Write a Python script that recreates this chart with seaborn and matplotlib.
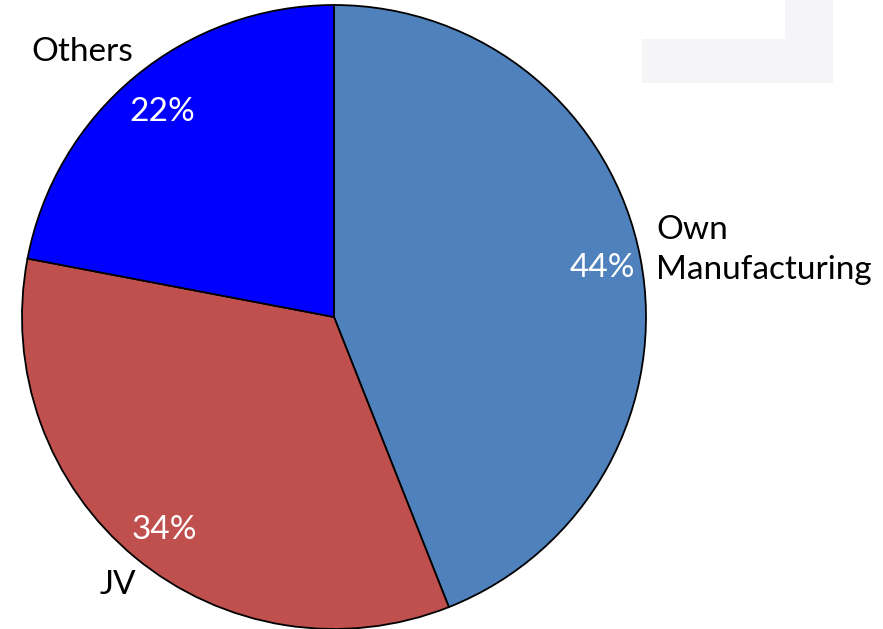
import matplotlib
matplotlib.use('Agg')
import matplotlib.pyplot as plt
import seaborn as sns
from matplotlib.patches import Rectangle

# 数据
labels = ['Own\nManufacturing', 'JV', 'Others']
shares = [44, 34, 22]
colors = ['#4F81BD', '#C0504D', '#0000FF']

sns.set_theme(style='white')
plt.rcParams['font.family'] = ['Lato', 'DejaVu Sans']
plt.rcParams['text.color'] = 'black'

fig = plt.figure(figsize=(8.83, 6.29), dpi=100)
fig.patch.set_facecolor('white')

# 右上角淡灰色的残留图形
fig.patches.append(Rectangle((785 / 883, 1 - 80 / 629), 48 / 883, 80 / 629,
                             transform=fig.transFigure, facecolor='#F5F5F7', edgecolor='none'))
fig.patches.append(Rectangle((642 / 883, 1 - 83 / 629), 191 / 883, 44 / 629,
                             transform=fig.transFigure, facecolor='#F5F5F7', edgecolor='none'))

R = 312.0
cx, cy = 334.0, 317.0
ax = fig.add_axes([(cx - R) / 883, (629 - cy - R) / 629, 2 * R / 883, 2 * R / 629])

wedges, texts, autotexts = ax.pie(
    shares, labels=labels, colors=colors, startangle=90, counterclock=False,
    autopct='%1.0f%%', pctdistance=0.87, labeldistance=1.05,
    wedgeprops=dict(edgecolor='black', linewidth=1.3),
    textprops=dict(fontsize=24, color='black'))
ax.set_xlim(-1, 1)
ax.set_ylim(-1, 1)
ax.set_aspect('equal')
ax.axis('off')

# 标签位置（像素 -> 数据坐标）
def px(x, y):
    return ((x - cx) / R, (cy - y) / R)

texts[0].set_position(px(656, 250))
texts[0].set_ha('left')
texts[0].set_linespacing(1.4)
texts[1].set_position(px(118, 585))
texts[1].set_ha('center')
texts[2].set_position(px(82, 52))
texts[2].set_ha('center')

for t, pos in zip(autotexts, [(602, 268), (164, 530), (162, 112)]):
    t.set_position(px(*pos))
    t.set_color('white')
    t.set_fontsize(24)

fig.savefig('out.png', dpi=100)
